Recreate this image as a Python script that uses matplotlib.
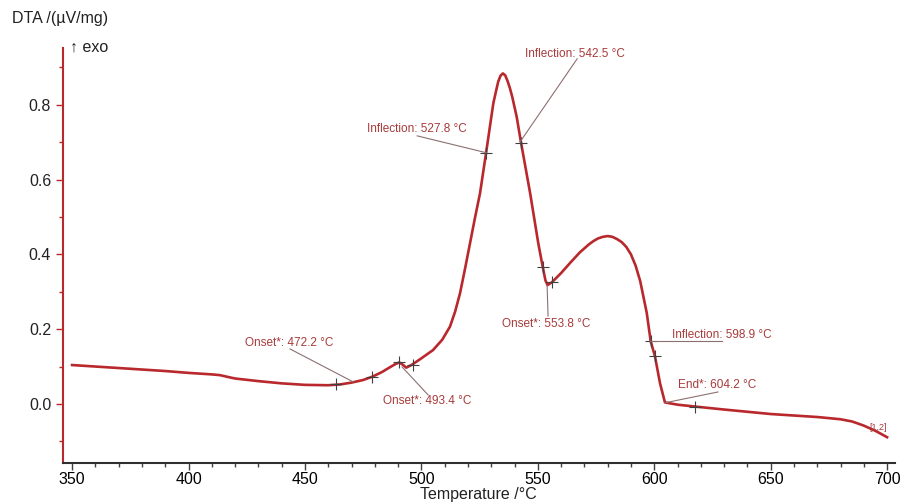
import matplotlib
matplotlib.use("Agg")
import matplotlib.pyplot as plt
from matplotlib.ticker import MultipleLocator, FormatStrFormatter

plt.rcParams['font.family'] = ['Liberation Sans', 'DejaVu Sans']

temperature = [350, 360, 370, 380, 390, 400, 410, 413.5, 417, 420, 430, 440, 450, 460, 465,
               470, 475, 479, 483, 487, 489, 490.5, 492, 493.5, 496, 500, 505, 509, 512.3,
               514.5, 516.6, 518.7, 520.9, 523, 525.2, 527.8, 530.9, 532, 533, 534, 535, 536,
               537, 538, 539, 540.9, 542.8, 546.7, 550.2, 552.1, 553.3, 554.2, 556, 560, 564,
               568, 572, 574, 576, 578, 580, 582, 584, 586, 588, 590, 592, 594, 596.8, 598.5,
               600.3, 602.5, 604.6, 610, 617.5, 630, 650, 670, 680, 685, 690, 695, 700]
dta = [0.104, 0.100, 0.096, 0.092, 0.088, 0.083, 0.079, 0.077, 0.072, 0.068, 0.061, 0.055,
       0.051, 0.050, 0.052, 0.057, 0.064, 0.073, 0.085, 0.100, 0.107, 0.111, 0.105, 0.097,
       0.105, 0.122, 0.144, 0.172, 0.207, 0.247, 0.296, 0.360, 0.430, 0.497, 0.564, 0.672,
       0.804, 0.835, 0.862, 0.878, 0.884, 0.879, 0.864, 0.845, 0.822, 0.769, 0.699, 0.564,
       0.430, 0.367, 0.330, 0.318, 0.325, 0.350, 0.378, 0.405, 0.427, 0.436, 0.443, 0.447,
       0.449, 0.447, 0.441, 0.433, 0.420, 0.400, 0.370, 0.328, 0.243, 0.167, 0.128, 0.055,
       0.004, -0.002, -0.007, -0.015, -0.027, -0.035, -0.041, -0.047, -0.058, -0.072, -0.089]

marker_t = [463.3, 479, 490.2, 496.4, 527.8, 542.8, 552.1, 556, 598.5, 600.3, 617.5]
marker_y = [0.052, 0.073, 0.111, 0.105, 0.672, 0.699, 0.367, 0.325, 0.167, 0.128, -0.007]

labels = ["Onset*: 472.2 °C", "Onset*: 493.4 °C", "Inflection: 527.8 °C",
          "Inflection: 542.5 °C", "Onset*: 553.8 °C", "Inflection: 598.9 °C", "End*: 604.2 °C"]
label_text = [(443.4, 0.163), (502.7, 0.008), (497.9, 0.736), (566.0, 0.936),
              (553.8, 0.214), (628.9, 0.185), (626.8, 0.051)]
leader_start = [(443.6, 0.147), (502.9, 0.024), (498.2, 0.717), (566.9, 0.923),
                (554.4, 0.235), (629.1, 0.169), (627.4, 0.032)]
leader_end = [(470.7, 0.059), (491.7, 0.099), (527.8, 0.672), (542.4, 0.701),
              (554.0, 0.316), (598.2, 0.169), (604.6, 0.003)]

curve_color = '#b8282c'
text_color = '#a83a3a'
leader_color = '#8c7070'

fig = plt.figure(figsize=(9.02, 5.04), dpi=100)
ax = fig.add_axes([63/902, 1-463/504, 832/902, 415/504])

ax.plot(temperature, dta, color=curve_color, lw=1.9, solid_joinstyle='round')
ax.plot(marker_t, marker_y, linestyle='none', marker='+', color='#404040',
        markersize=9, mew=0.8)

for txt, (tx, ty), (sx, sy), (ex, ey) in zip(labels, label_text, leader_start, leader_end):
    ax.plot([sx, ex], [sy, ey], color=leader_color, lw=0.8)
    ax.text(tx, ty, txt, color=text_color, fontsize=8.5, ha='center', va='center')

ax.text(696.1, -0.062, "[1,2]", color=text_color, fontsize=6.5, ha='center', va='center')

ax.set_xlim(346.1, 703.4)
ax.set_ylim(-0.158, 0.952)
ax.xaxis.set_major_locator(MultipleLocator(50))
ax.xaxis.set_minor_locator(MultipleLocator(10))
ax.yaxis.set_major_locator(MultipleLocator(0.2))
ax.yaxis.set_minor_locator(MultipleLocator(0.1))
ax.yaxis.set_major_formatter(FormatStrFormatter('%.1f'))

for s in ['top', 'right']:
    ax.spines[s].set_visible(False)
ax.spines['left'].set_color(curve_color)
ax.spines['left'].set_linewidth(1.5)
ax.spines['bottom'].set_color('#303030')
ax.spines['bottom'].set_linewidth(1.5)

ax.tick_params(axis='both', which='major', labelsize=11.5, length=5, width=1, color='#404040')
ax.tick_params(axis='both', which='minor', length=3, width=1, color='#404040')
ax.tick_params(axis='x', which='major', pad=1.5)
ax.tick_params(axis='y', which='both', colors=curve_color, labelcolor='#222222')

fig.text(12/902, 1-18/504, "DTA /(µV/mg)", fontsize=11.5, ha='left', va='center', color='#222222')
fig.text(70/902, 1-47/504, "↑ exo", fontsize=11.5, ha='left', va='center', color='#222222')
fig.text(478/902, 1-495/504, "Temperature /°C", fontsize=11.5, ha='center', va='center', color='#222222')

fig.savefig("out.png", dpi=100)
